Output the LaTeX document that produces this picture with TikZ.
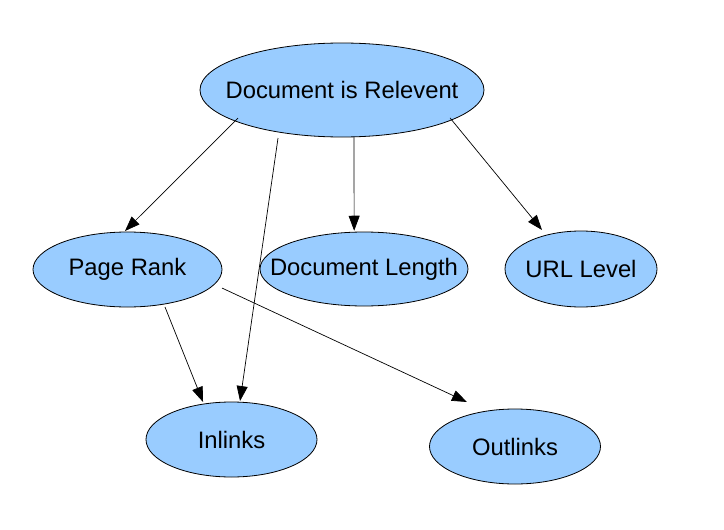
\documentclass[tikz,border=0pt]{standalone}
\usepackage{fontspec}
\setmainfont{Liberation Sans}
\usetikzlibrary{shapes.geometric,arrows.meta}
\definecolor{nodeblue}{HTML}{99CCFF}
\newcommand{\ctext}[1]{\makebox[0pt]{#1}}
\tikzset{
  oval/.style={ellipse, draw=black, line width=0.8pt, fill=nodeblue, inner sep=0pt,
    font=\fontsize{23.8}{28}\selectfont},
  link/.style={draw=black, line width=0.7pt, -{Triangle[length=15pt,width=11pt]}}
}
\begin{document}
\begin{tikzpicture}[x=1pt,y=-1pt]
\useasboundingbox[fill=white] (0,0) rectangle (724,530);
\node[oval, minimum width=284pt, minimum height=94pt] (doc) at (342,90) {\ctext{Document is Relevent}};
\node[oval, minimum width=189pt, minimum height=75pt] (pr) at (127.5,269.5) {\ctext{Page Rank}};
\node[oval, minimum width=208pt, minimum height=74pt] (dl) at (364,269) {\ctext{Document Length}};
\node[oval, minimum width=152pt, minimum height=76pt] (url) at (581,269) {\ctext{URL Level}};
\node[oval, minimum width=171pt, minimum height=75pt] (inl) at (231.5,439.5) {\ctext{Inlinks}};
\node[oval, minimum width=171pt, minimum height=75pt] (outl) at (515,446.5) {\ctext{Outlinks}};
\draw[link] ([shift={(195.1:107.7pt)}]doc.center) -- ([shift={(93.7:38.6pt)}]pr.center);
\draw[link] ([shift={(216.9:80pt)}]doc.center) -- ([shift={(77.5:39.4pt)}]inl.center);
\draw[link] ([shift={(284.3:48.5pt)}]doc.center) -- ([shift={(104.4:39.5pt)}]dl.center);
\draw[link] ([shift={(345.5:111.6pt)}]doc.center) -- ([shift={(135:55.2pt)}]url.center);
\draw[link] ([shift={(315:53pt)}]pr.center) -- ([shift={(127.2:47.1pt)}]inl.center);
\draw[link] ([shift={(348.9:96.3pt)}]pr.center) -- ([shift={(137.2:65.5pt)}]outl.center);
\end{tikzpicture}
\end{document}
